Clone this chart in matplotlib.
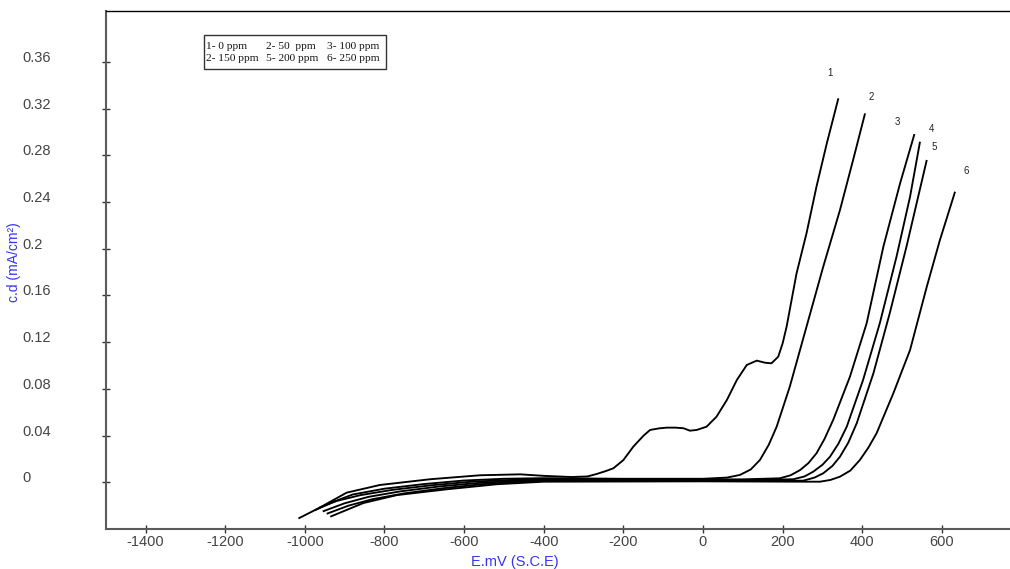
import matplotlib
matplotlib.use("Agg")
import matplotlib.pyplot as plt
from matplotlib.patches import Rectangle

plt.rcParams['font.family'] = ['Liberation Sans', 'DejaVu Sans']
plt.rcParams['axes.unicode_minus'] = False

# ---------------- data (E in mV vs SCE, current density in mA/cm2) ----------------
E1 = [-1016, -964, -895, -811, -685, -560, -459, -400, -330, -290, -267, -245, -225, -200, -175, -150, -133,
      -110, -91, -70, -49, -33, -16, 9, 34, 60, 85, 110, 135, 156, 172, 189, 200, 210, 235, 260, 285, 311, 340]
I1 = [-0.031, -0.022, -0.0089, -0.0023, 0.0026, 0.0060, 0.0068, 0.0055, 0.0045, 0.0050, 0.0071, 0.0095,
      0.0120, 0.0190, 0.0305, 0.0397, 0.0448, 0.0462, 0.0468, 0.0468, 0.0463, 0.0442, 0.0448, 0.0476,
      0.0562, 0.0705, 0.0876, 0.1005, 0.1042, 0.1024, 0.1019, 0.1076, 0.1190, 0.1333, 0.1790, 0.2133,
      0.2532, 0.2904, 0.3289]

E2 = [-975, -930, -880, -800, -700, -600, -500, -400, -200, 0, 60, 93, 120, 143, 165, 185, 218, 260, 302,
      344, 377, 407]
I2 = [-0.024, -0.017, -0.0105, -0.0055, -0.0015, 0.0015, 0.0030, 0.0035, 0.0030, 0.0030, 0.0040, 0.0063,
      0.0110, 0.0191, 0.0320, 0.0476, 0.0819, 0.1333, 0.1847, 0.2332, 0.2761, 0.3160]

E3 = [-965, -920, -860, -780, -680, -580, -480, -400, -100, 100, 193, 220, 244, 265, 285, 305, 327, 369,
      411, 453, 495, 531]
I3 = [-0.022, -0.016, -0.011, -0.0065, -0.0025, 0.0005, 0.0020, 0.0028, 0.0025, 0.0025, 0.0034, 0.0060,
      0.0105, 0.0165, 0.0248, 0.0370, 0.0534, 0.0904, 0.1362, 0.2018, 0.2561, 0.2983]

E4 = [-955, -900, -840, -760, -660, -560, -470, -400, 0, 150, 227, 255, 277, 300, 319, 340, 361, 402, 444,
      486, 520, 545]
I4 = [-0.025, -0.018, -0.0125, -0.0078, -0.0035, -0.0005, 0.0012, 0.0020, 0.0020, 0.0020, 0.0026, 0.0050,
      0.0091, 0.0150, 0.0219, 0.0330, 0.0476, 0.0876, 0.1362, 0.1932, 0.2446, 0.2917]

E5 = [-945, -890, -830, -750, -650, -550, -460, -400, 0, 200, 252, 280, 302, 325, 344, 365, 386, 428, 469,
      511, 562]
I5 = [-0.027, -0.020, -0.0145, -0.0095, -0.0050, -0.0015, 0.0005, 0.0015, 0.0015, 0.0012, 0.0014, 0.0040,
      0.0077, 0.0140, 0.0219, 0.0340, 0.0505, 0.0934, 0.1448, 0.2018, 0.2761]

E6 = [-936, -853, -769, -643, -518, -400, 0, 250, 294, 320, 344, 370, 394, 415, 436, 478, 520, 562, 595, 633]
I6 = [-0.0295, -0.0178, -0.0110, -0.0060, -0.0017, 0.0005, 0.0008, 0.0005, 0.0005, 0.0020, 0.0048, 0.0100,
      0.0191, 0.0295, 0.0420, 0.0762, 0.1133, 0.1675, 0.2075, 0.2489]

curve_ids = ['1', '2', '3', '4', '5', '6']
label_E = [319, 423, 488, 573, 580, 662]
label_I = [0.3503, 0.3300, 0.3089, 0.3026, 0.2875, 0.2669]

legend_row1 = ['1- 0 ppm', '2- 50  ppm', '3- 100 ppm']
legend_row2 = ['2- 150 ppm', '5- 200 ppm', '6- 250 ppm']

x_ticks = [-1400, -1200, -1000, -800, -600, -400, -200, 0, 200, 400, 600]
y_ticks = [0, 0.04, 0.08, 0.12, 0.16, 0.2, 0.24, 0.28, 0.32, 0.36]
x_ticklabels = ['-1400', '-1200', '-1000', '-800', '-600', '-400', '-200', '0', '200', '400', '600']
y_ticklabels = ['0', '0.04', '0.08', '0.12', '0.16', '0.2', '0.24', '0.28', '0.32', '0.36']

x_title = 'E.mV (S.C.E)'
y_title = 'c.d (mA/cm\u00b2)'

# ---------------- figure ----------------
W, H = 1010, 569
fig = plt.figure(figsize=(W / 100, H / 100), dpi=100)
ax_l, ax_r, ax_b, ax_t = 105.7, 1010.0, 528.5, 11.0
ax = fig.add_axes([ax_l / W, 1 - ax_b / H, (ax_r - ax_l) / W, (ax_b - ax_t) / H])

series = [(E1, I1), (E2, I2), (E3, I3), (E4, I4), (E5, I5), (E6, I6)]
for E, I in series:
    ax.plot(E, I, color='black', lw=1.35, solid_joinstyle='round', solid_capstyle='butt')

for cid, xe, yi in zip(curve_ids, label_E, label_I):
    ax.text(xe, yi, cid, fontsize=7, ha='center', va='center', color='#222222')

ax.set_xlim(-1500, 771)
ax.set_ylim(-0.0396, 0.4037)

ax.set_xticks(x_ticks)
ax.set_xticklabels(x_ticklabels)
ax.set_yticks(y_ticks)
ax.set_yticklabels(y_ticklabels)

spine_col = '#5a5a5a'
for s in ['left', 'bottom']:
    ax.spines[s].set_color(spine_col)
    ax.spines[s].set_linewidth(1.5)
ax.spines['right'].set_visible(False)
ax.spines['top'].set_color('black')
ax.spines['top'].set_linewidth(1.0)

ax.tick_params(axis='both', direction='inout', length=6, width=1, color='#333333',
               labelsize=10.5, labelcolor='#444444')
ax.tick_params(axis='x', pad=2)
ax.tick_params(axis='y', pad=57)
plt.setp(ax.get_yticklabels(), ha='left', va='baseline')

blue = '#3535f0'
ax.set_xlabel(x_title, color=blue, fontsize=10.5, ha='center', va='center')
ax.xaxis.set_label_coords((515 - ax_l) / (ax_r - ax_l), (ax_b - 562) / (ax_b - ax_t))
ax.set_ylabel(y_title, color=blue, fontsize=10, ha='center', va='center')
ax.yaxis.set_label_coords((14 - ax_l) / (ax_r - ax_l), (ax_b - 262) / (ax_b - ax_t))

# legend box
bx0, bx1, by0, by1 = 204, 386, 35, 69.3
fig.patches.append(Rectangle((bx0 / W, 1 - by1 / H), (bx1 - bx0) / W, (by1 - by0) / H,
                             transform=fig.transFigure, facecolor='white', edgecolor='#333333',
                             lw=1.0, zorder=5))
col_x = [206.0, 265.5, 327.0]
for row, ypx in ((legend_row1, 46.7), (legend_row2, 58.5)):
    for txt, xpx in zip(row, col_x):
        fig.text(xpx / W, 1 - ypx / H, txt, fontsize=8.2, family=['Liberation Serif', 'DejaVu Serif'],
                 ha='left', va='center', color='#111111', zorder=6)

fig.savefig('out.png', dpi=100)
